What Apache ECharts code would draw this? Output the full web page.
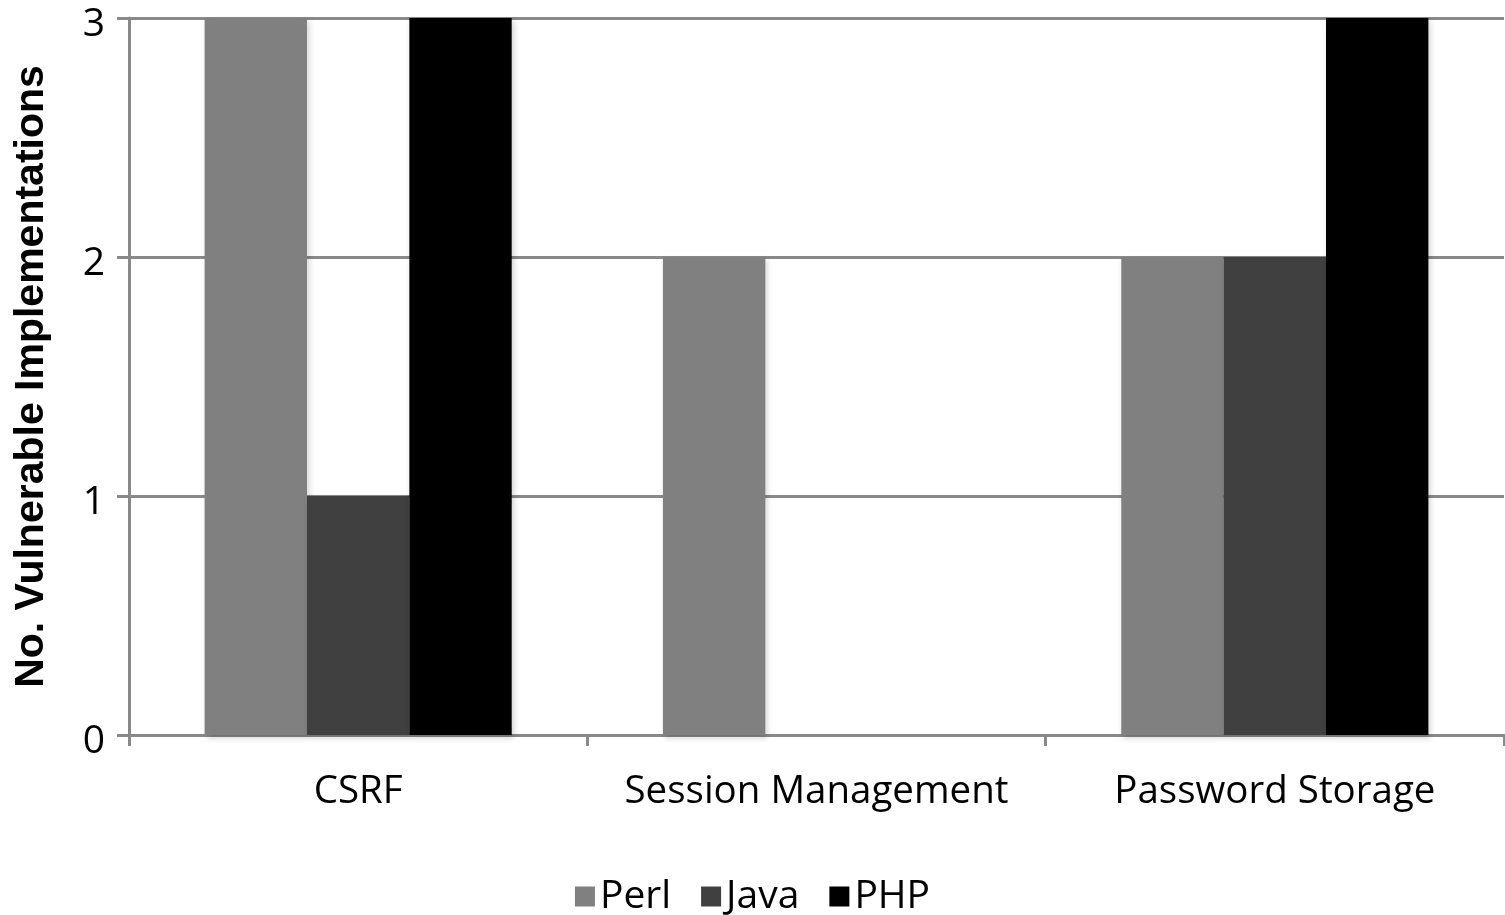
<!DOCTYPE html>
<html>
<head>
<meta charset="utf-8">
<script src="https://cdn.jsdelivr.net/npm/echarts@6/dist/echarts.min.js"></script>
<style>
html,body{margin:0;padding:0;background:#fff;}
#chart{width:1505px;height:915px;}
</style>
</head>
<body>
<div id="chart"></div>
<script>
const categories = ['CSRF', 'Session Management', 'Password Storage'];
const perl = [3, 2, 2];
const java = [1, 0, 2];
const php = [3, 0, 3];
const yTicks = [0, 1, 2, 3];

const chart = echarts.init(document.getElementById('chart'));
const font = '"Open Sans", "Noto Sans", sans-serif';
const shadow = {shadowBlur: 6, shadowColor: 'rgba(0,0,0,0.18)', shadowOffsetX: 2, shadowOffsetY: 3};
function mk(name, data, color) {
  return {
    name, type: 'bar', data,
    barGap: '0%', barCategoryGap: '33%',
    itemStyle: Object.assign({color}, shadow),
    emphasis: {disabled: true}
  };
}
chart.setOption({
  animation: false,
  backgroundColor: '#fff',
  grid: {left: 129, right: 1, top: 18, bottom: 180, containLabel: false},
  legend: {
    bottom: -6, left: 'center',
    icon: 'rect', itemWidth: 20, itemHeight: 20, itemGap: 30,
    textStyle: {fontSize: 39, color: '#000', fontFamily: font, padding: [14, 0, 0, 0]},
    data: ['Perl', 'Java', 'PHP']
  },
  xAxis: {
    type: 'category', data: categories,
    axisLine: {lineStyle: {color: '#898989', width: 3}},
    axisTick: {show: true, interval: 0, length: 11, lineStyle: {color: '#898989', width: 3}},
    axisLabel: {interval: 0, fontSize: 38.5, color: '#000', fontFamily: font, margin: 38}
  },
  yAxis: {
    type: 'value', min: yTicks[0], max: yTicks[yTicks.length - 1], interval: 1,
    name: 'No. Vulnerable Implementations', nameLocation: 'middle', nameGap: 77,
    nameTextStyle: {fontSize: 41, fontWeight: 'bold', color: '#000', fontFamily: '"Liberation Sans", Arial, sans-serif'},
    axisLine: {show: true, lineStyle: {color: '#898989', width: 3}},
    axisTick: {show: true, length: 12, lineStyle: {color: '#898989', width: 3}},
    splitLine: {lineStyle: {color: '#898989', width: 3}},
    axisLabel: {
      margin: 24,
      formatter: v => '{a|' + v + '}',
      rich: {a: {fontSize: 39, color: '#000', fontFamily: font, padding: [14, 0, 0, 0]}}
    }
  },
  series: [mk('Perl', perl, '#808080'), mk('Java', java, '#404040'), mk('PHP', php, '#000000')]
});
</script>
</body>
</html>
